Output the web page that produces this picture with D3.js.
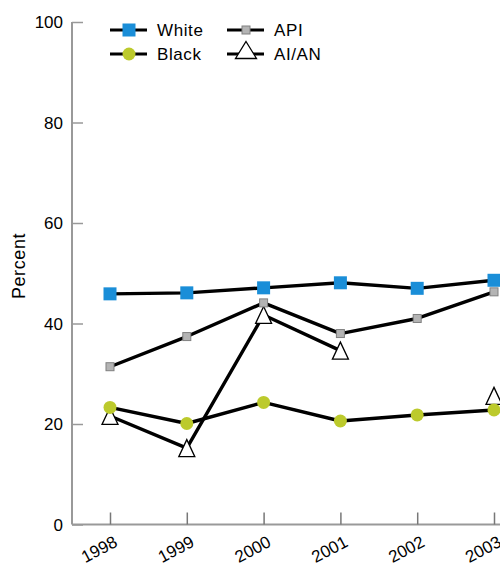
<!DOCTYPE html>
<html>
<head>
<meta charset="utf-8">
<script src="https://cdn.jsdelivr.net/npm/d3@7"></script>
<style>
  body { margin: 0; background: #fff; }
  svg { display: block; font-family: "Liberation Sans", Arial, sans-serif; }
</style>
</head>
<body>
<svg id="chart" width="500" height="565"></svg>
<script>
const years = ["1998", "1999", "2000", "2001", "2002", "2003"];
const white = [45.9, 46.1, 47.1, 48.1, 47.0, 48.6];
const api   = [31.4, 37.4, 44.1, 38.0, 41.0, 46.3];
const black = [23.3, 20.1, 24.3, 20.6, 21.8, 22.8];
const aian  = [21.6, 15.2, 41.7, 34.6, null, 25.6];
const yTicks = [0, 20, 40, 60, 80, 100];

const svg = d3.select("#chart");
const x = d3.scaleLinear().domain([0, years.length - 1]).range([110, 494]);
const y = d3.scaleLinear().domain([0, 100]).range([524.5, 22]);
const axisColor = "#999";

// y axis
const yAxis = svg.append("g").attr("transform", "translate(72,0)")
  .call(d3.axisRight(y).tickValues(yTicks).tickSize(11).tickFormat(""));
yAxis.select(".domain").attr("stroke", axisColor).attr("stroke-width", 2).attr("d", "M0,22V524.5");
yAxis.selectAll(".tick line").attr("stroke", axisColor).attr("stroke-width", 1.5);
svg.append("g").selectAll("text").data(yTicks).join("text")
  .attr("x", 63).attr("y", d => y(d)).attr("dy", "0.36em")
  .attr("text-anchor", "end").attr("font-size", 17).text(d => d);

// x axis
const xAxis = svg.append("g").attr("transform", "translate(0,524.5)")
  .call(d3.axisTop(x).tickValues(d3.range(years.length)).tickSize(12).tickFormat(""));
xAxis.select(".domain").attr("stroke", axisColor).attr("stroke-width", 2).attr("d", "M72,0H500");
xAxis.selectAll(".tick line").attr("stroke", "#777").attr("stroke-width", 1.5);
svg.append("g").selectAll("text").data(years).join("text")
  .attr("font-size", 17)
  .attr("text-anchor", "end")
  .attr("transform", (d, i) => `translate(${x(i) + 3},${535}) rotate(-28)`)
  .attr("dy", "0.7em")
  .text(d => d);

// Percent label
svg.append("text").attr("transform", "translate(25,266) rotate(-90)")
  .attr("text-anchor", "middle").attr("font-size", 18).attr("letter-spacing", 0.6)
  .text("Percent");

const tri = (w, h) => `M0,${-h/2}L${w/2},${h/2}L${-w/2},${h/2}Z`;

const series = [
  { name: "AI/AN", values: aian, marker: "tri" },
  { name: "API", values: api, marker: "smallsq" },
  { name: "Black", values: black, marker: "circle" },
  { name: "White", values: white, marker: "square" }
];

function drawMarker(g, type, cx, cy, legend) {
  if (type === "square") {
    g.append("rect").attr("x", cx - 6.5).attr("y", cy - 6.5).attr("width", 13).attr("height", 13)
      .attr("fill", "#1a8ed8");
  } else if (type === "smallsq") {
    g.append("rect").attr("x", cx - 4).attr("y", cy - 4).attr("width", 8).attr("height", 8)
      .attr("fill", "#b4b4b4").attr("stroke", "#808080").attr("stroke-width", 1);
  } else if (type === "circle") {
    g.append("circle").attr("cx", cx).attr("cy", cy).attr("r", 6.5).attr("fill", "#bcca2c");
  } else {
    g.append("path").attr("transform", `translate(${cx},${cy})`)
      .attr("d", legend ? tri(21, 17) : tri(16, 17))
      .attr("fill", "#fff").attr("stroke", "#000").attr("stroke-width", 1.3);
  }
}

const line = d3.line().defined(d => d.v !== null).x(d => x(d.i)).y(d => y(d.v));
series.forEach(s => {
  const pts = s.values.map((v, i) => ({ v, i }));
  const g = svg.append("g");
  g.append("path").datum(pts).attr("d", line)
    .attr("fill", "none").attr("stroke", "#000").attr("stroke-width", 3.4)
    .attr("stroke-linejoin", "round");
  pts.filter(p => p.v !== null).forEach(p => drawMarker(g, s.marker, x(p.i), y(p.v), false));
});

// legend
const legendItems = [
  { name: "White", marker: "square", lx: 110, ly: 30 },
  { name: "Black", marker: "circle", lx: 110, ly: 54 },
  { name: "API", marker: "smallsq", lx: 227, ly: 30 },
  { name: "AI/AN", marker: "tri", lx: 227, ly: 54 }
];
const lg = svg.append("g");
legendItems.forEach(it => {
  lg.append("line").attr("x1", it.lx).attr("x2", it.lx + 37).attr("y1", it.ly).attr("y2", it.ly)
    .attr("stroke", "#000").attr("stroke-width", 3.2);
  drawMarker(lg, it.marker, it.lx + 19, it.marker === "tri" ? it.ly - 4 : it.ly, true);
  lg.append("text").attr("x", it.lx + 47).attr("y", it.ly).attr("dy", "0.36em")
    .attr("font-size", 17).attr("letter-spacing", 0.6).text(it.name);
});
</script>
</body>
</html>
